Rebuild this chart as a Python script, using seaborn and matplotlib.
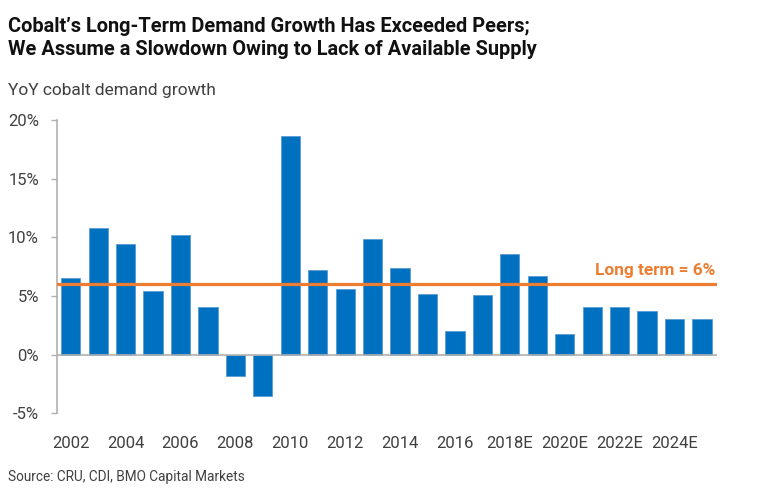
import matplotlib
matplotlib.use("Agg")
import matplotlib.pyplot as plt
import seaborn as sns
import pandas as pd
from matplotlib.ticker import FuncFormatter

years = ["2002", "2003", "2004", "2005", "2006", "2007", "2008", "2009", "2010",
         "2011", "2012", "2013", "2014", "2015", "2016", "2017", "2018E", "2019E",
         "2020E", "2021E", "2022E", "2023E", "2024E", "2025E"]
growth = [6.5, 10.8, 9.4, 5.4, 10.2, 4.1, -1.8, -3.5, 18.6,
          7.2, 5.6, 9.9, 7.4, 5.2, 2.0, 5.1, 8.6, 6.7,
          1.8, 4.1, 4.1, 3.7, 3.0, 3.0]
long_term = 6.0
yticks = [-5, 0, 5, 10, 15, 20]

sns.set_theme(style="white")
plt.rcParams['font.family'] = ['Roboto', 'DejaVu Sans']

df = pd.DataFrame({"year": years, "growth": growth})

fig = plt.figure(figsize=(7.68, 4.9), dpi=100)
ax = fig.add_axes([0.0742, 0.1565, 0.8594, 0.5985])

sns.barplot(data=df, x="year", y="growth", color="#0070C0", saturation=1,
            width=0.7, edgecolor="#5B9BD5", linewidth=0.6, ax=ax)

ax.axhline(0, color="#B0B0B0", lw=1.2, zorder=1)
ax.axhline(long_term, color="#ED7D31", lw=2.3, zorder=3)
ax.text(23.5, long_term + 0.55, "Long term = 6%", color="#ED7D31",
        fontsize=12.4, fontweight="bold", ha="right", va="bottom")

ax.set_xlim(-0.5, 23.55)
ax.set_ylim(-5, 20)
ax.set_yticks(yticks)
ax.yaxis.set_major_formatter(FuncFormatter(lambda v, p: f"{int(v)}%"))
ax.set_xticks(range(0, len(years), 2))
ax.set_xticklabels(years[::2])

for s in ["top", "right", "bottom"]:
    ax.spines[s].set_visible(False)
ax.spines["left"].set_color("#B0B0B0")
ax.spines["left"].set_linewidth(1.2)

ax.tick_params(axis="y", which="both", left=True, length=4, width=1,
               color="#B0B0B0", pad=9, labelsize=12, labelcolor="#404040")
ax.tick_params(axis="x", length=0, pad=16, labelsize=12, labelcolor="#404040")
ax.set_xlabel("")
ax.set_ylabel("")

fig.text(0.0104, 0.965, "Cobalt\u2019s Long-Term Demand Growth Has Exceeded Peers;\nWe Assume a Slowdown Owing to Lack of Available Supply",
         fontsize=14.4, fontweight="bold", color="#111111", ha="left", va="top",
         linespacing=1.25)
fig.text(0.0104, 0.815, "YoY cobalt demand growth", fontsize=12.5,
         color="#404040", ha="left", va="center")
fig.text(0.0104, 0.026, "Source: CRU, CDI, BMO Capital Markets", fontsize=9.8,
         color="#404040", ha="left", va="center")

fig.savefig("out.png", dpi=100)
